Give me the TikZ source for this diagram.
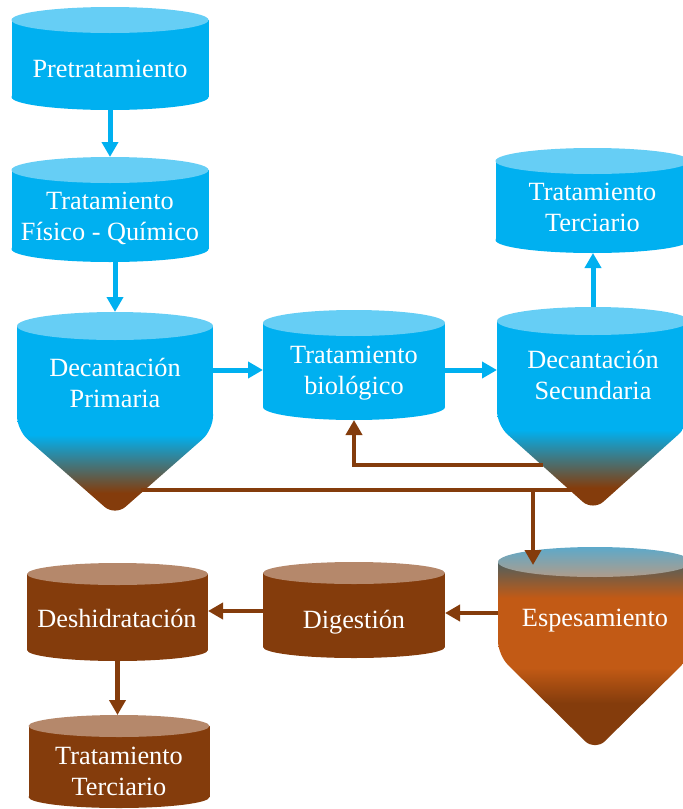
\documentclass[tikz,border=0pt]{standalone}
\usepackage{fontspec}
\setmainfont{Liberation Serif}
\newfontfamily\tankserif{Liberation Serif}
\usetikzlibrary{arrows.meta}

\definecolor{tankblue}{HTML}{00B0F0}
\definecolor{tanktop}{HTML}{66CEF5}
\definecolor{sludge}{HTML}{843C0C}
\definecolor{sludgetop}{HTML}{B5886B}
\definecolor{thickorange}{HTML}{C25A15}
\definecolor{thickslate}{HTML}{4E5F5E}
\definecolor{thicktopa}{HTML}{5DA9CA}
\definecolor{thicktopb}{HTML}{B09C8A}

\pgfdeclareverticalshading{decshade}{100bp}{color(0bp)=(sludge); color(35bp)=(sludge); color(60bp)=(tankblue); color(100bp)=(tankblue)}
\pgfdeclareverticalshading{espbody}{100bp}{color(0bp)=(thickorange); color(52bp)=(thickorange); color(75bp)=(thickslate); color(100bp)=(thickslate)}
\pgfdeclareverticalshading{espcone}{100bp}{color(0bp)=(sludge); color(44bp)=(sludge); color(58bp)=(thickorange); color(100bp)=(thickorange)}

\newcommand\tankfont{\tankserif\fontsize{26.3}{31}\selectfont}

% name, cx, top centre, bottom centre, rx, ry, body, top
\newcommand\cyltank[8]{
	\fill[#7] (#2-#5,#3) rectangle (#2+#5,#4);
	\fill[#7] (#2,#4) ellipse [x radius=#5, y radius=#6];
	\fill[#8] (#2,#3) ellipse [x radius=#5, y radius=#6];
	\coordinate (#1-n) at (#2,#3-#6);
	\coordinate (#1-s) at (#2,#4+#6);
}
% name, cx, top centre, end of sides, tip, rx, ry
\newcommand\conetank[7]{
	\shade[shading=decshade,rounded corners=14pt] (#2-#6,#4-30) -- (#2-#6,#4) -- (#2,#5) -- (#2+#6,#4) -- (#2+#6,#4-30) -- cycle;
	\fill[tankblue] (#2-#6,#3) rectangle (#2+#6,#4-15);
	\fill[tanktop] (#2,#3) ellipse [x radius=#6, y radius=#7];
	\coordinate (#1-n) at (#2,#3-#7);
}

\tikzset{
	tanklabel/.style={text=white,align=center,font=\tankfont},
	bluearrow/.style={draw=tankblue,line width=5pt,-{Triangle[width=16pt,length=15pt]}},
	sludgeline/.style={draw=sludge,line width=4.5pt},
	sludgearrow/.style={sludgeline,-{Triangle[width=16pt,length=15pt]}}
}

\begin{document}
\begin{tikzpicture}[x=1pt,y=-1pt]
	\useasboundingbox (0,0) rectangle (683,809);

	\cyltank{pre}{110}{20}{97}{98.5}{13}{tankblue}{tanktop}
	\cyltank{fq}{110}{170}{249}{98.5}{13}{tankblue}{tanktop}
	\cyltank{bio}{354}{323}{407}{91}{13}{tankblue}{tanktop}
	\cyltank{tt}{592.5}{161}{240}{97}{13}{tankblue}{tanktop}
	\cyltank{dig}{354}{573}{647}{91}{11}{sludge}{sludgetop}
	\cyltank{desh}{117.5}{574}{650}{90.5}{11}{sludge}{sludgetop}
	\cyltank{ttb}{119}{726}{797}{90.5}{11}{sludge}{sludgetop}
	\conetank{dp}{115}{326}{430}{516}{98}{14}
	\conetank{ds}{593}{321}{425}{511}{96}{14}

	\shade[shading=espcone,rounded corners=14pt] (498,625) -- (498,655) -- (595,751) -- (692,655) -- (692,625) -- cycle;
	\shade[shading=espbody] (498,562) rectangle (692,640);
	\shade[top color=thicktopa,bottom color=thicktopb] (595,562) ellipse [x radius=97, y radius=15];

	\coordinate (dp-e) at (213,370);
	\coordinate (bio-w) at (263,370);
	\coordinate (bio-e) at (445,370);
	\coordinate (ds-w) at (497,370);
	\coordinate (ds-ret) at (543,465);
	\coordinate (dp-out) at (141,490);
	\coordinate (ds-out) at (574,490);
	\coordinate (junc) at (533,490);
	\coordinate (esp-in) at (533,565);
	\coordinate (esp-w) at (498,613);
	\coordinate (dig-e) at (445,613);
	\coordinate (dig-w) at (263,611);
	\coordinate (desh-e) at (208,611);

	\draw [bluearrow] (pre-s) -- (fq-n);
	\draw [bluearrow] (dp-n |- fq-s) -- (dp-n);
	\draw [bluearrow] (dp-e) -- (bio-w);
	\draw [bluearrow] (bio-e) -- (ds-w);
	\draw [bluearrow] (ds-n) -- (ds-n |- tt-s);
	\draw [sludgearrow] (ds-ret) -| (bio-s);
	\draw [sludgeline] (dp-out) -- (ds-out);
	\draw [sludgearrow] (junc) -- (esp-in);
	\draw [sludgearrow] (esp-w) -- (dig-e);
	\draw [sludgearrow] (dig-w) -- (desh-e);
	\draw [sludgearrow] (desh-s) -- (desh-s |- ttb-n);

	\node [tanklabel] (pre) at (110,69) {Pretratamiento};
	\node [tanklabel] (fq) at (110,218.5) {Tratamiento\\Físico - Químico};
	\node [tanklabel] (dp) at (115,383) {Decantación\\Primaria};
	\node [tanklabel] (bio) at (354,373) {Tratamiento\\biológico};
	\node [tanklabel] (ds) at (593,375) {Decantación\\Secundaria};
	\node [tanklabel] (tt) at (592.5,207.5) {Tratamiento\\Terciario};
	\node [tanklabel] (esp) at (595,621) {Espesamiento};
	\node [tanklabel] (dig) at (354,622) {Digestión};
	\node [tanklabel] (desh) at (117,618) {Deshidratación};
	\node [tanklabel] (ttb) at (119,771) {Tratamiento\\Terciario};
\end{tikzpicture}
\end{document}
